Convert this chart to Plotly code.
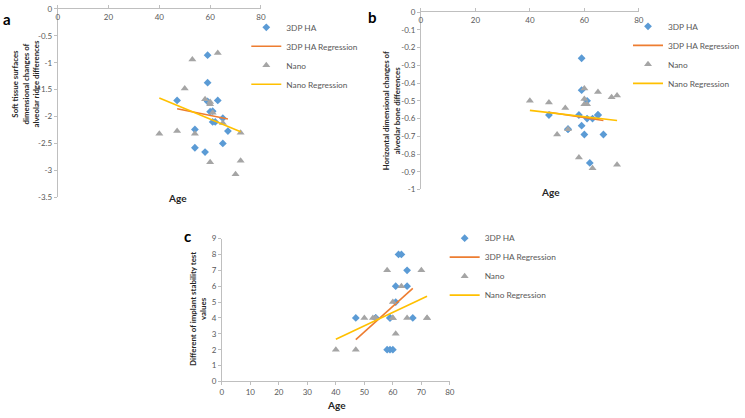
import numpy as np
import plotly.graph_objects as go

# ---------------- data ----------------
ha_age = [47, 59, 59, 59, 63, 60, 61, 61, 62, 65, 67, 54, 54, 58, 65]
nano_age = [40, 47, 50, 53, 54, 58, 60, 60, 61, 63, 65, 60, 72, 72, 70]

ha_soft = [-1.70, -0.86, -1.37, -1.72, -1.70, -1.91, -1.90, -2.10, -2.10, -2.03, -2.27, -2.24, -2.58, -2.66, -2.50]
nano_soft = [-2.32, -2.27, -1.48, -0.94, -2.32, -1.68, -1.73, -1.77, -1.93, -0.82, -2.12, -2.85, -2.30, -2.82, -3.07]

ha_horiz = [-0.58, -0.26, -0.44, -0.64, -0.60, -0.69, -0.50, -0.60, -0.85, -0.58, -0.69, -0.66, -0.66, -0.58, -0.58]
nano_horiz = [-0.50, -0.51, -0.69, -0.54, -0.66, -0.82, -0.43, -0.49, -0.52, -0.88, -0.45, -0.52, -0.47, -0.86, -0.48]

ha_isq = [4, 2, 4, 4, 8, 2, 6, 5, 8, 7, 4, 4, 4, 2, 6]
nano_isq = [2, 2, 4, 4, 4, 7, 5, 4, 3, 6, 4, 4, 4, 4, 7]

a_yticks = [0, -0.5, -1, -1.5, -2, -2.5, -3, -3.5]
a_yticktext = ["0", "-0.5", "-1", "-1.5", "-2", "-2.5", "-3", "-3.5"]
b_yticks = [0, -0.1, -0.2, -0.3, -0.4, -0.5, -0.6, -0.7, -0.8, -0.9, -1]
b_yticktext = ["0", "-0.1", "-0.2", "-0.3", "-0.4", "-0.5", "-0.6", "-0.7", "-0.8", "-0.9", "-1"]

# ---------------- style ----------------
W, H = 745, 418
FONT = "Lato"
BLUE = "#5B9BD5"
GRAY = "#A5A5A5"
ORANGE = "#ED7D31"
YELLOW = "#FFC000"
AXIS = "#BFBFBF"
TICKC = "#595959"
TITLEC = "#262626"


def px_x(v):
    return v / W


def px_y(v):
    return 1 - v / H


def regline(x, y):
    k, b = np.polyfit(x, y, 1)
    xs = np.array([min(x), max(x)], dtype=float)
    return xs, k * xs + b


fig = go.Figure()

panels = [
    ("x", "y", "legend", ha_soft, nano_soft),
    ("x2", "y2", "legend2", ha_horiz, nano_horiz),
    ("x3", "y3", "legend3", ha_isq, nano_isq),
]
for xa, ya, lg, hv, nv in panels:
    fig.add_trace(go.Scatter(x=ha_age, y=hv, mode="markers", name="3DP HA",
                             marker=dict(symbol="diamond", size=6, color=BLUE),
                             xaxis=xa, yaxis=ya, legend=lg))
    rx, ry = regline(ha_age, hv)
    fig.add_trace(go.Scatter(x=rx, y=ry, mode="lines", name="3DP HA Regression",
                             line=dict(color=ORANGE, width=1.6),
                             xaxis=xa, yaxis=ya, legend=lg))
    fig.add_trace(go.Scatter(x=nano_age, y=nv, mode="markers", name="Nano",
                             marker=dict(symbol="triangle-up", size=7, color=GRAY),
                             xaxis=xa, yaxis=ya, legend=lg))
    rx, ry = regline(nano_age, nv)
    fig.add_trace(go.Scatter(x=rx, y=ry, mode="lines", name="Nano Regression",
                             line=dict(color=YELLOW, width=1.6),
                             xaxis=xa, yaxis=ya, legend=lg))

axcommon = dict(showgrid=False, zeroline=False, showline=True, linecolor=AXIS,
                linewidth=1, ticks="outside", ticklen=3, tickcolor=AXIS,
                tickfont=dict(family=FONT, size=8, color=TICKC))

legcommon = dict(font=dict(family=FONT, size=8.3, color=TICKC), bgcolor="rgba(0,0,0,0)",
                 xanchor="left", yanchor="top", itemwidth=30, borderwidth=0)

fig.update_layout(
    width=W, height=H, autosize=False,
    margin=dict(l=0, r=0, t=0, b=0),
    paper_bgcolor="white", plot_bgcolor="white",
    showlegend=True,
    xaxis=dict(domain=[px_x(57), px_x(265)], anchor="y", range=[0, 80], tickvals=[0, 20, 40, 60, 80],
               side="top", ticklabelstandoff=-18, **axcommon),
    yaxis=dict(domain=[px_y(197), px_y(4)], anchor="x", range=[-3.5, 0], tickvals=a_yticks,
               ticktext=a_yticktext, **axcommon),
    xaxis2=dict(domain=[px_x(428.7), px_x(651.7)], anchor="y2", range=[0, 80], tickvals=[0, 20, 40, 60, 80],
                side="top", ticklabelstandoff=-18, **axcommon),
    yaxis2=dict(domain=[px_y(189), px_y(7.3)], anchor="x2", range=[-1, 0], tickvals=b_yticks,
                ticktext=b_yticktext, **axcommon),
    xaxis3=dict(domain=[px_x(225), px_x(458.3)], anchor="y3", range=[0, 80], dtick=10, **axcommon),
    yaxis3=dict(domain=[px_y(385.7), px_y(239.3)], anchor="x3", range=[0, 9], dtick=1, **axcommon),
    legend=dict(x=px_x(250), y=px_y(8), **legcommon),
    legend2=dict(x=px_x(641), y=px_y(7), **legcommon),
    legend3=dict(x=px_x(453), y=px_y(224), **legcommon),
)

ann = []


def add_text(txt, x, y, size, angle=0, bold=True, color=TITLEC):
    ann.append(dict(text=("<b>%s</b>" % txt) if bold else txt, x=px_x(x), y=px_y(y),
                    xref="paper", yref="paper", showarrow=False, textangle=angle,
                    xanchor="center", yanchor="middle",
                    font=dict(family=FONT, size=size, color=color)))


add_text("a", 5, 14, 15, color="#000000")
add_text("b", 379, 12, 15, color="#000000")
add_text("c", 190, 237, 15, color="#000000")
add_text("Soft tissue surfaces<br>dimensional changes of<br>alveolar ridge differences", 24, 81, 7.8, angle=-90)
add_text("Horizontal dimensional changes of<br>alveolar bone differences", 399, 108, 7.8, angle=-90)
add_text("Different of implant stability test<br>values", 200, 311, 7.9, angle=-90)
add_text("Age", 180, 198, 10)
add_text("Age", 561, 192, 10)
add_text("Age", 342, 410, 10)

fig.update_layout(annotations=ann)

fig.write_html("out.html", config={"displayModeBar": False},
               post_script="document.body.style.margin='0px';document.body.style.overflow='hidden';")
